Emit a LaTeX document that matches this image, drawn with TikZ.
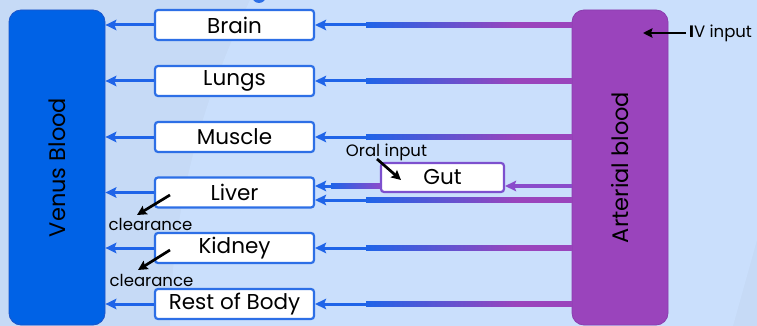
\documentclass[tikz,border=0pt]{standalone}
\usepackage{fontspec}
\setmainfont{Poppins}
\usetikzlibrary{arrows.meta,calc}
\definecolor{bg}{HTML}{C6DAF6}
\definecolor{bglt}{HTML}{CADFFC}
\definecolor{vb}{HTML}{0062E6}
\definecolor{vbd}{HTML}{1D55C8}
\definecolor{ab}{HTML}{9A44BC}
\definecolor{abd}{HTML}{8A3DAE}
\definecolor{ln}{HTML}{1F64E8}
\definecolor{ob}{HTML}{2D6FE6}
\definecolor{gb}{HTML}{7D50CE}
\definecolor{gp}{HTML}{8A4CCB}
\begin{document}
\begin{tikzpicture}[x=1pt,y=-1pt,
  organ/.style={draw=ob,line width=2.2pt,fill=white,rounded corners=3pt,minimum width=159pt,minimum height=30pt,inner sep=0pt,font=\fontsize{21.5}{21.5}\selectfont},
  gutbox/.style={organ,draw=gb,minimum width=123pt,minimum height=29pt},
  bigbox/.style={rounded corners=12pt,minimum width=96pt,minimum height=315pt,inner sep=0pt,line width=0.8pt},
  vlabel/.style={rotate=90,font=\fontsize{22.5}{22.5}\selectfont},
  arr/.style={draw=ln,line width=3pt,-{Stealth[length=11pt,width=10.5pt,inset=2pt]}},
  parr/.style={draw=gp,line width=3.2pt,-{Stealth[length=11pt,width=10.5pt,inset=2pt]}},
  karr/.style={draw=black,line width=2.7pt,-{Stealth[length=9.5pt,width=9.5pt,inset=1.5pt]}},
  small/.style={font=\fontsize{16.5}{16.5}\selectfont,inner sep=0pt}
]
\fill[bg] (0,0) rectangle (757,326);
\useasboundingbox (0,0) rectangle (757,326);
\fill[bglt] (250,0) .. controls (205,95) and (172,200) .. (170,326) -- (733,326) -- (757,240) -- (757,0) -- cycle;
\fill[ob] (259,-4) circle (7pt);

% big boxes
\node[bigbox,fill=vb,draw=vbd] (ven) at (57,167.5) {};
\node[vlabel] (venl) at (ven.center) {Venus Blood};
\node[bigbox,fill=ab,draw=abd] (art) at (620,167.5) {};
\node[vlabel] (artl) at (art.center) {Arterial blood};

% organs
\node[organ] (brain) at (234.5,25) {Brain};
\node[organ] (lungs) at (234.5,81) {Lungs};
\node[organ] (muscle) at (234.5,137) {Muscle};
\node[organ] (liver) at (234.5,192.5) {Liver};
\node[organ] (kidney) at (234.5,248) {Kidney};
\node[organ] (rest) at (234.5,304) {Rest of Body};
\node[gutbox] (gut) at (442.5,177.5) {Gut};

% arterial feeds
\foreach \n in {brain,lungs,muscle,kidney,rest}{
  \coordinate (j\n) at ($(\n.east)+(51,0)$);
  \shade[left color=ln,right color=ab] ($(j\n)+(0,-2.7)$) rectangle ($(j\n)+(150,2.7)$);
  \fill[ab] ($(j\n)+(150,-2.7)$) rectangle ($(j\n -| art.west)+(0,2.7)$);
  \draw[arr] (j\n) -- (\n.east);
}
\foreach \n in {brain,lungs,muscle,liver,kidney,rest}{
  \draw[arr] (\n.west) -- (\n.west -| ven.east);
}

% liver lower feed from arterial
\coordinate (ll) at ($(liver.east)+(0,7.5)$);
\coordinate (jl) at ($(ll)+(51,0)$);
\shade[left color=ln,right color=ab] ($(jl)+(0,-2.7)$) rectangle ($(jl)+(150,2.7)$);
\fill[ab] ($(jl)+(150,-2.7)$) rectangle ($(jl -| art.west)+(0,2.7)$);
\draw[arr] (jl) -- (ll);

% gut feeds
\coordinate (lu) at ($(liver.east)+(0,-6.5)$);
\coordinate (gw) at (gut.west |- lu);
\coordinate (ge) at (gut.east |- lu);
\coordinate (jg) at ($(lu)+(16,0)$);
\shade[left color=ln,right color=gp] ($(jg)+(0,-2.5)$) rectangle ($(gw)+(0,2.5)$);
\draw[arr] (jg) -- (lu);
\draw[parr] (ge -| art.west) -- (ge);

% oral input
\node[small] (oral) at (386.5,152) {Oral input};
\coordinate (oa) at (377,159);
\draw[karr] (oa) -- (401,180);

% IV input
\node[small,anchor=west,font=\fontsize{16.5}{16.5}\selectfont] (iv) at (689,33) {\textbf{I}V input};
\draw[karr] (iv.west) ++(-3,0) coordinate (ivs) -- (643,33);

% clearance
\node[small] (cl1) at (150.5,224) {clearance};
\node[small] (cl2) at (151.5,280) {clearance};
\draw[karr] (170,195) -- (137,215);
\draw[karr] (170,250) -- (138,270);
\end{tikzpicture}
\end{document}
